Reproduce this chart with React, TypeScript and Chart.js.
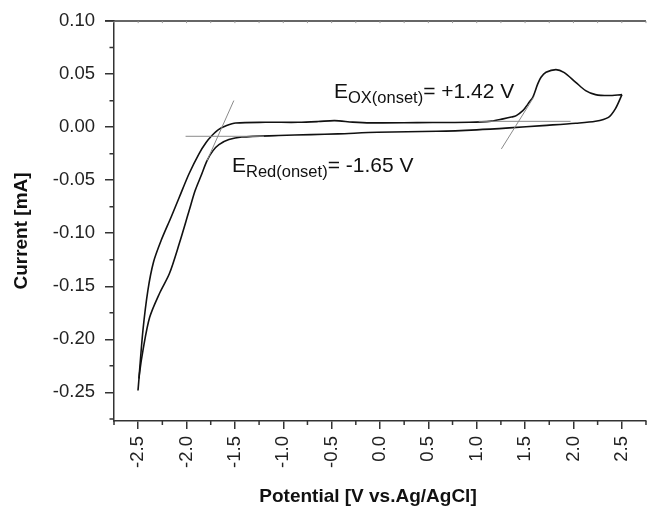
import React, { useEffect, useRef } from 'react';
import { Chart, registerables } from 'chart.js';

Chart.register(...registerables);

// Cyclic voltammogram: potential (V vs Ag/AgCl) and current (mA)
// Path 1: from the -2.5 V end, up the outer branch, along the upper plateau, through the oxidation peak to the +2.5 V end
const forwardPotential = [
  -2.492, -2.451, -2.400, -2.342, -2.263, -2.160, -2.075, -1.973, -1.870, -1.798, -1.737, -1.670,
  -1.585, -1.491, -1.186, -0.845, -0.640, -0.469, -0.282, -0.097, 0.384, 0.927, 1.153, 1.273,
  1.358, 1.409, 1.477, 1.511, 1.542, 1.580, 1.631, 1.665, 1.716, 1.819, 1.901, 2.024, 2.126,
  2.228, 2.362, 2.502,
];
const forwardCurrent = [
  -0.2369, -0.1917, -0.1540, -0.1273, -0.1069, -0.0849, -0.0661, -0.0437, -0.0249, -0.0145, -0.0079, -0.0023,
  0.0015, 0.0039, 0.0046, 0.0046, 0.0053, 0.0062, 0.0048, 0.0041, 0.0043, 0.0046, 0.0057, 0.0078,
  0.0095, 0.0109, 0.0156, 0.0194, 0.0235, 0.0282, 0.0408, 0.0470, 0.0517, 0.0543, 0.0517, 0.0423, 0.0345,
  0.0307, 0.0298, 0.0307,
];
// Path 2: from the +2.5 V end back along the lower plateau and down the inner branch
const returnPotential = [
  2.502, 2.433, 2.362, 2.228, 2.024, 1.682, 1.337, 0.999, 0.589, -0.026, -0.435, -0.712, -1.049,
  -1.429, -1.562, -1.665, -1.726, -1.788, -1.849, -1.911, -1.973, -2.075, -2.177, -2.280, -2.382,
  -2.451, -2.485, -2.502,
];
const returnCurrent = [
  0.0307, 0.0172, 0.0093, 0.0056, 0.0037, 0.0015, -0.0007, -0.0025, -0.0039, -0.0048, -0.0063, -0.0070, -0.0079,
  -0.0093, -0.0117, -0.0164, -0.0221, -0.0315, -0.0456, -0.0598, -0.0786, -0.1097, -0.1380, -0.1568, -0.1795,
  -0.2106, -0.2313, -0.2482,
];

// Onset construction lines
const redBaselinePotential = [-2.01, -1.2];
const redBaselineCurrent = [-0.0086, -0.0086];
const redTangentPotential = [-1.511, -1.788];
const redTangentCurrent = [0.0251, -0.0315];
const oxBaselinePotential = [1.02, 1.97];
const oxBaselineCurrent = [0.0055, 0.0055];
const oxTangentPotential = [1.255, 1.593];
const oxTangentCurrent = [-0.0205, 0.0288];

// Axes
const xMajorTicks = [-2.5, -2.0, -1.5, -1.0, -0.5, 0.0, 0.5, 1.0, 1.5, 2.0, 2.5];
const xMinorTicks = [-2.75, -2.25, -1.75, -1.25, -0.75, -0.25, 0.25, 0.75, 1.25, 1.75, 2.25, 2.75];
const yMajorTicks = [0.10, 0.05, 0.0, -0.05, -0.10, -0.15, -0.20, -0.25];
const yMinorTicks = [0.075, 0.025, -0.025, -0.075, -0.125, -0.175, -0.225, -0.275];
const xRange = [-2.75, 2.75];
const yRange = [-0.277, 0.10];

const xTitle = 'Potential [V vs.Ag/AgCl]';
const yTitle = 'Current [mA]';
const oxLabel = { main: 'E', sub: 'OX(onset)', rest: '= +1.42 V' };
const redLabel = { main: 'E', sub: 'Red(onset)', rest: '= -1.65 V' };

const FONT = '"Liberation Sans", Arial, Helvetica, sans-serif';
const AXIS_COLOR = '#333';

const zip = (xs: number[], ys: number[]) => xs.map((x, i) => ({ x, y: ys[i] }));

export default function App() {
  const canvasRef = useRef<HTMLCanvasElement | null>(null);

  useEffect(() => {
    const canvas = canvasRef.current;
    if (!canvas) return;

    const decorations = {
      id: 'decorations',
      afterDraw(chart: any) {
        const ctx = chart.ctx;
        const xs = chart.scales.x;
        const ys = chart.scales.y;
        const area = chart.chartArea;
        ctx.save();
        ctx.strokeStyle = AXIS_COLOR;
        ctx.lineWidth = 1.5;
        // top frame line
        ctx.beginPath();
        ctx.moveTo(area.left - 9, area.top);
        ctx.lineTo(area.right, area.top);
        ctx.stroke();
        // minor ticks
        ctx.beginPath();
        xMinorTicks.forEach((v) => {
          const px = xs.getPixelForValue(v);
          ctx.moveTo(px, area.bottom);
          ctx.lineTo(px, area.bottom + 4);
        });
        yMinorTicks.forEach((v) => {
          const py = ys.getPixelForValue(v);
          if (py > area.bottom + 1) return;
          ctx.moveTo(area.left, py);
          ctx.lineTo(area.left - 4.5, py);
        });
        ctx.stroke();
        // tiny ticks on top line
        ctx.lineWidth = 1;
        ctx.strokeStyle = '#999';
        ctx.beginPath();
        [...xMajorTicks, ...xMinorTicks].forEach((v) => {
          const px = xs.getPixelForValue(v);
          ctx.moveTo(px, area.top);
          ctx.lineTo(px, area.top + 2);
        });
        ctx.stroke();

        // axis titles
        ctx.fillStyle = '#111';
        ctx.font = `bold 19px ${FONT}`;
        ctx.textAlign = 'center';
        ctx.textBaseline = 'middle';
        ctx.fillText(xTitle, 368, 497);
        ctx.save();
        ctx.translate(22, 231);
        ctx.rotate(-Math.PI / 2);
        ctx.fillText(yTitle, 0, 0);
        ctx.restore();

        // annotations
        const drawLabel = (lab: { main: string; sub: string; rest: string }, x: number, y: number) => {
          ctx.textAlign = 'left';
          ctx.textBaseline = 'alphabetic';
          ctx.font = `21px ${FONT}`;
          ctx.fillText(lab.main, x, y);
          let cx = x + ctx.measureText(lab.main).width;
          ctx.font = `16.5px ${FONT}`;
          ctx.fillText(lab.sub, cx, y + 5);
          cx += ctx.measureText(lab.sub).width;
          ctx.font = `21px ${FONT}`;
          ctx.fillText(lab.rest, cx, y);
        };
        drawLabel(oxLabel, 334, 98);
        drawLabel(redLabel, 232, 172);
        ctx.restore();
      },
    };

    const chart = new Chart(canvas, {
      type: 'scatter',
      data: {
        datasets: [
          { data: zip(redBaselinePotential, redBaselineCurrent), borderColor: '#8a8a8a', borderWidth: 1, showLine: true, pointRadius: 0 },
          { data: zip(redTangentPotential, redTangentCurrent), borderColor: '#8a8a8a', borderWidth: 1, showLine: true, pointRadius: 0 },
          { data: zip(oxBaselinePotential, oxBaselineCurrent), borderColor: '#8a8a8a', borderWidth: 1, showLine: true, pointRadius: 0 },
          { data: zip(oxTangentPotential, oxTangentCurrent), borderColor: '#8a8a8a', borderWidth: 1, showLine: true, pointRadius: 0 },
          { data: zip(forwardPotential, forwardCurrent), borderColor: '#111', borderWidth: 1.6, showLine: true, pointRadius: 0, tension: 0.3 },
          { data: zip(returnPotential, returnCurrent), borderColor: '#111', borderWidth: 1.6, showLine: true, pointRadius: 0, tension: 0.3 },
        ],
      },
      options: {
        responsive: false,
        animation: false,
        events: [],
        layout: { padding: { top: 20.5, right: 0, left: 0, bottom: 0 } },
        plugins: { legend: { display: false }, tooltip: { enabled: false } },
        scales: {
          x: {
            type: 'linear',
            min: xRange[0],
            max: xRange[1],
            afterBuildTicks: (s: any) => { s.ticks = xMajorTicks.map((v) => ({ value: v })); },
            afterFit: (s: any) => { s.height = 88; },
            ticks: {
              minRotation: 90,
              maxRotation: 90,
              padding: 7,
              color: '#222',
              font: { family: FONT, size: 18.5 },
              callback: (v: any) => Number(v).toFixed(1),
            },
            grid: { display: true, drawOnChartArea: false, drawTicks: true, tickLength: 8, color: AXIS_COLOR, lineWidth: 1.5 },
            border: { display: true, color: AXIS_COLOR, width: 1.5 },
          },
          y: {
            type: 'linear',
            min: yRange[0],
            max: yRange[1],
            afterBuildTicks: (s: any) => { s.ticks = yMajorTicks.map((v) => ({ value: v })); },
            afterFit: (s: any) => { s.width = 114; },
            ticks: {
              padding: 10,
              color: '#222',
              font: { family: FONT, size: 18.5 },
              callback: (v: any) => Number(v).toFixed(2),
            },
            grid: { display: true, drawOnChartArea: false, drawTicks: true, tickLength: 9, color: AXIS_COLOR, lineWidth: 1.5 },
            border: { display: true, color: AXIS_COLOR, width: 1.5 },
          },
        },
      },
      plugins: [decorations],
    });

    return () => chart.destroy();
  }, []);

  return (
    <div style={{ position: 'fixed', left: 0, top: 0, width: 651, height: 509, background: '#fff' }}>
      <canvas ref={canvasRef} width={651} height={509} style={{ display: 'block', width: 651, height: 509 }} />
    </div>
  );
}
